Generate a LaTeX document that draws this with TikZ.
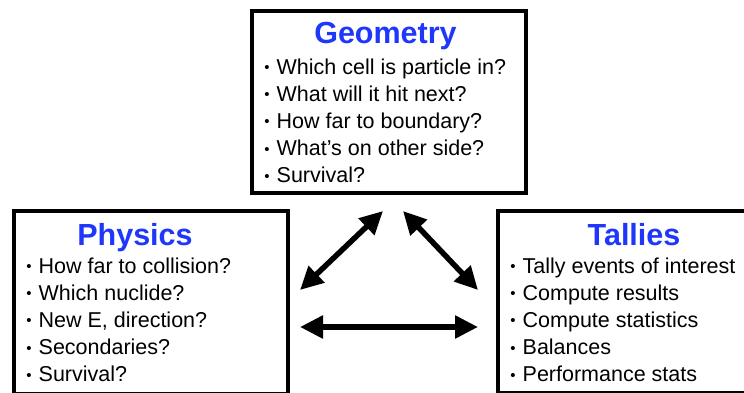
\documentclass[tikz,border=0pt]{standalone}
\usepackage{fontspec}
\setmainfont{Liberation Sans}
\usetikzlibrary{arrows.meta}
\definecolor{titleblue}{RGB}{30,55,250}
\newcommand{\smallbul}{\makebox[7.5pt][c]{\raisebox{1.6pt}{\fontsize{15}{15}\selectfont •}}}
\begin{document}
\begin{tikzpicture}[x=1pt,y=-1pt,
  panel/.style={draw=black, line width=4pt, inner sep=0pt, outer sep=0pt, anchor=north west,
    minimum width=274pt, minimum height=182.5pt},
  title/.style={font=\fontsize{30.5}{36}\selectfont\bfseries, text=titleblue, anchor=base, inner sep=0pt},
  item/.style={font=\fontsize{21.5}{27.2}\selectfont, anchor=base west, inner sep=0pt},
  link/.style={line width=5.5pt, {Triangle[length=23pt,width=22pt]}-{Triangle[length=23pt,width=22pt]}}]
\useasboundingbox (0,0) rectangle (744,392);
\clip (0,0) rectangle (744,392);
\fill[white] (0,0) rectangle (744,392);
% panels
\node[panel] (geo) at (251.5,10.5) {};
\node[panel] (phys) at (13.7,211) {};
\node[panel] (tally) at (497.5,210.5) {};
% titles
\node[title] (geot) at (385.5,43) {Geometry};
\node[title] (physt) at (135,245) {Physics};
\node[title] (tallyt) at (634,245) {Tallies};
% items
\foreach \t [count=\i] in {Which cell is particle in?, What will it hit next?, How far to boundary?, What’s on other side?, Survival?}
  \node[item] (geo\i) at (263,{74+27.2*(\i-1)}) {\smallbul\ \t};
\foreach \t [count=\i] in {How far to collision?, Which nuclide?, {New E, direction?}, Secondaries?, Survival?}
  \node[item] (phys\i) at (25,{273.3+27.1*(\i-1)}) {\smallbul\ \t};
\foreach \t [count=\i] in {Tally events of interest, Compute results, Compute statistics, Balances, Performance stats}
  \node[item] (tally\i) at (509,{273.3+27.1*(\i-1)}) {\smallbul\ \t};
% arrow ends
\coordinate (pl) at (300,290);
\coordinate (gl) at (383,211);
\coordinate (gr) at (403,211);
\coordinate (tr) at (478,290);
\coordinate (ph) at (300,327);
\coordinate (th) at (478,327);
\draw[link] (pl) -- (gl);
\draw[link] (gr) -- (tr);
\draw[link] (ph) -- (th);
\end{tikzpicture}
\end{document}
